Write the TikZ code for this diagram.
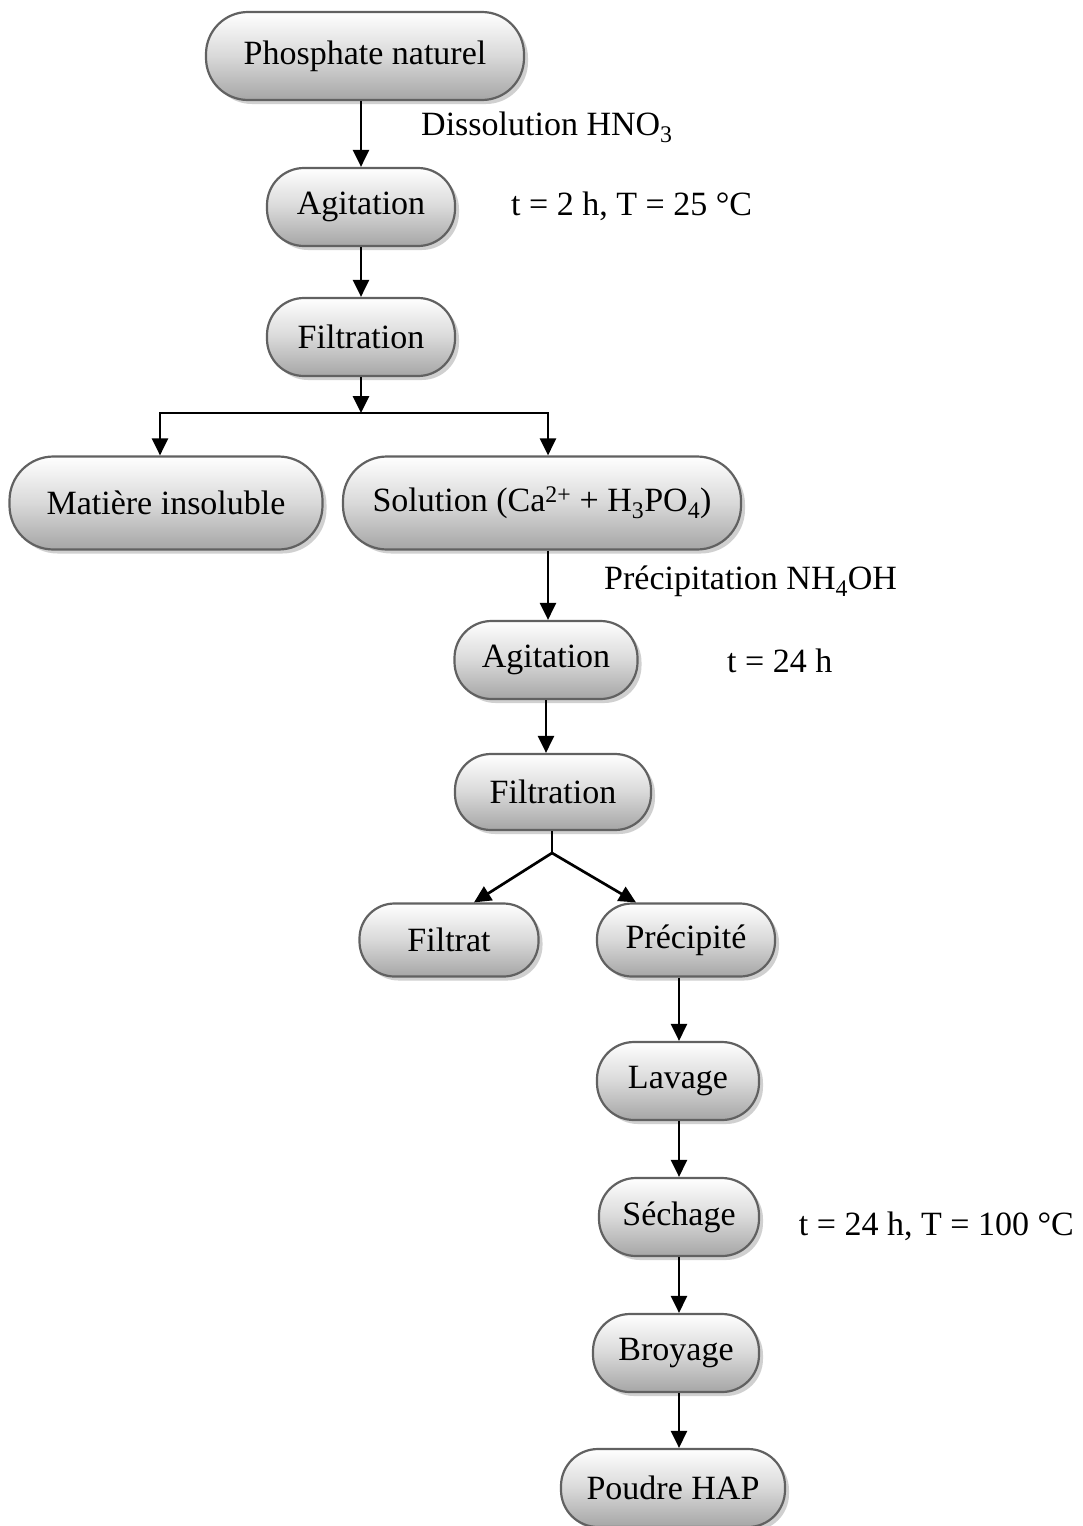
\documentclass[tikz,border=0pt]{standalone}
\usepackage{fontspec}
\setmainfont{Liberation Serif}
\usetikzlibrary{arrows.meta,shadows,calc}
\begin{document}
\begin{tikzpicture}[x=1pt,y=-1pt,
  box/.style={draw=black!62, line width=2.2pt, shade, top color=white, bottom color=black!35,
    middle color=white!85!black, inner sep=0pt, font=\fontsize{34}{40}\selectfont,
    drop shadow={shadow xshift=4pt, shadow yshift=-4pt, fill=black!30, opacity=0.6}},
  arr/.style={line width=2.7pt, -{Triangle[length=17pt,width=16pt]}},
  ln/.style={line width=2.7pt},
  note/.style={inner sep=0pt, font=\fontsize{34}{40}\selectfont, anchor=west}]
\useasboundingbox[fill=white] (0,0) rectangle (1082,1526);
\node[box, minimum width=318pt, minimum height=88pt, rounded corners=42pt] (phos) at (365,56) {Phosphate naturel};
\node[box, minimum width=188pt, minimum height=78pt, rounded corners=37pt] (ag1) at (361,207) {Agitation};
\node[box, minimum width=188pt, minimum height=78pt, rounded corners=37pt] (fi1) at (361,337) {Filtration};
\node[box, minimum width=313pt, minimum height=93pt, rounded corners=44pt] (mat) at (166,503) {Matière insoluble};
\node[box, minimum width=398pt, minimum height=93pt, rounded corners=44pt] (sol) at (542,503) {Solution (Ca\textsuperscript{2+} + H\textsubscript{3}PO\textsubscript{4})};
\node[box, minimum width=183pt, minimum height=78pt, rounded corners=37pt] (ag2) at (546,660) {Agitation};
\node[box, minimum width=196pt, minimum height=76pt, rounded corners=36pt] (fi2) at (553,792) {Filtration};
\node[box, minimum width=179pt, minimum height=73pt, rounded corners=35pt] (filt) at (449,940) {Filtrat};
\node[box, minimum width=178pt, minimum height=73pt, rounded corners=35pt] (prec) at (686,940) {Précipité};
\node[box, minimum width=162pt, minimum height=78pt, rounded corners=37pt] (lav) at (678,1081) {Lavage};
\node[box, minimum width=160pt, minimum height=78pt, rounded corners=37pt] (sech) at (679,1217) {Séchage};
\node[box, minimum width=166pt, minimum height=78pt, rounded corners=37pt] (broy) at (676,1353) {Broyage};
\node[box, minimum width=224pt, minimum height=78pt, rounded corners=37pt] (poud) at (673,1488) {Poudre HAP};

\node[note] (l1) at (421,127) {Dissolution HNO\textsubscript{3}};
\node[note] (l2) at (511,206) {t = 2 h, T = 25 °C};
\node[note] (l3) at (604,581) {Précipitation NH\textsubscript{4}OH};
\node[note] (l4) at (727,661) {t = 24 h};
\node[note, anchor=east] (l5) at (1074,1226) {t = 24 h, T = 100 °C};

\coordinate (s1) at (361,413);
\coordinate (s2) at (552,853);

\draw[arr] (phos.south -| ag1.north) -- (ag1.north);
\draw[arr] (ag1) -- (fi1);
\draw[arr] (fi1.south) -- (s1);
\draw[arr] (s1) -| ([xshift=-6pt]mat.north);
\draw[arr] (s1) -| ([xshift=6pt]sol.north);
\draw[arr] ([xshift=6pt]sol.south) -- ([xshift=6pt]sol.south |- ag2.north);
\draw[arr] (ag2.south) -- (ag2.south |- fi2.north);
\draw[ln] (fi2.south -| s2) -- (s2);
\draw[arr] (s2) -- ([xshift=25pt]filt.north);
\draw[arr] (s2) -- ([xshift=-50pt]prec.north);
\draw[arr] ([xshift=-7pt]prec.south) -- ([xshift=-7pt]prec.south |- lav.north);
\draw[arr] (lav.south -| 679,0) -- (sech.north);
\draw[arr] (sech.south) -- (sech.south |- broy.north);
\draw[arr] (sech.south |- broy.south) -- (sech.south |- poud.north);
\end{tikzpicture}
\end{document}
